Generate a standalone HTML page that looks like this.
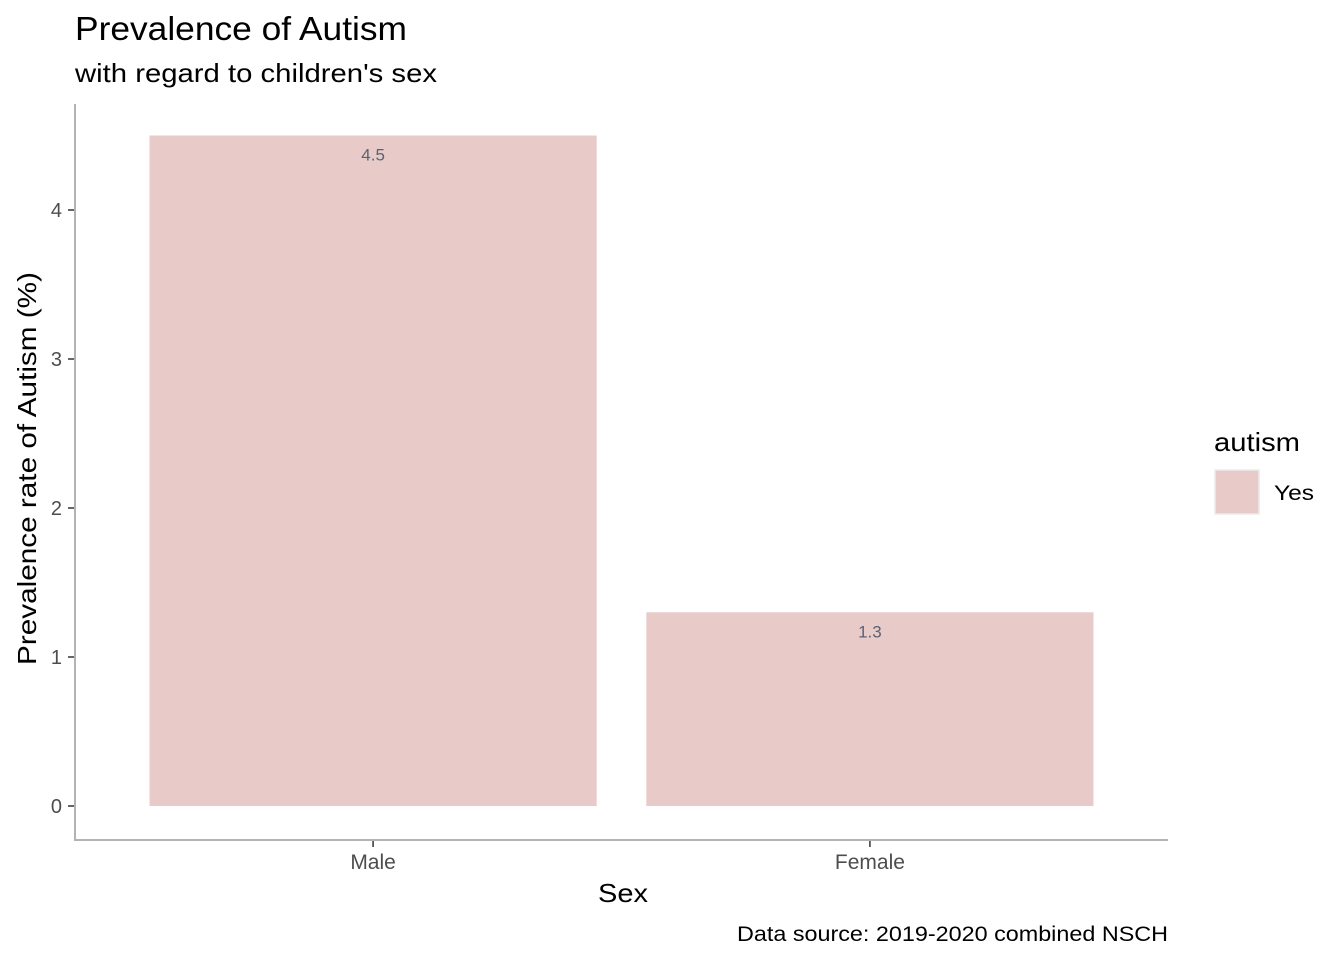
<!DOCTYPE html>
<html><head><meta charset="utf-8">
<style>
body{margin:0;background:#fff;font-family:"Liberation Sans",Arial,sans-serif;}
svg text{font-family:"Liberation Sans",Arial,sans-serif;}
</style></head>
<body>
<svg id="chart" width="1344" height="960" xmlns="http://www.w3.org/2000/svg">
<rect width="1344" height="960" fill="#fff"/>
<text x="75" y="40" font-size="33" textLength="332" lengthAdjust="spacingAndGlyphs" fill="#000">Prevalence of Autism</text>
<text x="75" y="82" font-size="26" textLength="362" lengthAdjust="spacingAndGlyphs" fill="#000">with regard to children's sex</text>
<g id="plot"></g>
<text x="598" y="902" font-size="26" textLength="50" lengthAdjust="spacingAndGlyphs" fill="#000">Sex</text>
<text transform="translate(36,665) rotate(-90)" font-size="26" textLength="393" lengthAdjust="spacingAndGlyphs" fill="#000">Prevalence rate of Autism (%)</text>
<text x="737" y="941" font-size="21" textLength="431" lengthAdjust="spacingAndGlyphs" fill="#000">Data source: 2019-2020 combined NSCH</text>
<g>
<text x="1214" y="451" font-size="26" textLength="86" lengthAdjust="spacingAndGlyphs" fill="#000">autism</text>
<rect x="1215" y="470" width="44" height="44" fill="#E8CBC8" stroke="#ebebeb" stroke-width="1.5"/>
<text x="1274" y="500" font-size="21" textLength="40" lengthAdjust="spacingAndGlyphs" fill="#000">Yes</text>
</g>
</svg>
<script>
const categories = ["Male", "Female"];
const values = [4.5, 1.3];
const labels = ["4.5", "1.3"];
const yTicks = [0, 1, 2, 3, 4];

const NS = "http://www.w3.org/2000/svg";
const g = document.getElementById("plot");
const y0 = 806, pxPerUnit = 149;
const y = v => y0 - v * pxPerUnit;
const xStart = 75, xEnd = 1168;
const band = (xEnd - xStart) / 2.2;
const xCenter = i => xStart + band * 0.6 + i * band;
const barW = band * 0.9;
function mk(tag, attrs) { const e = document.createElementNS(NS, tag); for (const k in attrs) e.setAttribute(k, attrs[k]); g.appendChild(e); return e; }

categories.forEach((c, i) => {
  const cx = xCenter(i);
  const r = mk("rect", {x: cx - barW/2, y: y(values[i]), width: barW, height: y0 - y(values[i]), fill: "#E8CBC8"});
  
  
  const t = mk("text", {x: cx, y: y(values[i]) + 25, "font-size": 17, "text-anchor": "middle", fill: "#5a6275"});
  t.textContent = labels[i];
  
  
  const tk = mk("line", {x1: cx, x2: cx, y1: 840, y2: 847, stroke: "#333", "stroke-width": 1.5});
  
  
  const tl = mk("text", {x: cx, y: 869, "font-size": 21, "text-anchor": "middle", fill: "#4d4d4d"});
  tl.textContent = c;
  
  
});
yTicks.forEach(v => {
  const tk = mk("line", {x1: 68, x2: 75, y1: y(v), y2: y(v), stroke: "#333", "stroke-width": 1.5});
  
  
  const tl = mk("text", {x: 62, y: y(v) + 7, "font-size": 20, "text-anchor": "end", fill: "#4d4d4d"});
  tl.textContent = v;
  
  
});
const ya = mk("line", {x1: 75, x2: 75, y1: 104, y2: 841, stroke: "#b3b3b3", "stroke-width": 2});


const xa = mk("line", {x1: 74, x2: 1168, y1: 840, y2: 840, stroke: "#b3b3b3", "stroke-width": 2});


</script>
</body></html>
